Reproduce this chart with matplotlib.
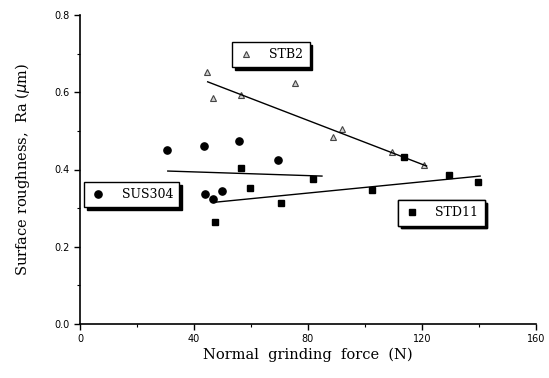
import numpy as np
import matplotlib
matplotlib.use("Agg")
import matplotlib.pyplot as plt
from matplotlib.lines import Line2D

stb2_force = [44.6, 46.8, 56.5, 75.4, 91.9, 88.8, 109.5, 120.7]
stb2_ra    = [0.653, 0.585, 0.593, 0.624, 0.505, 0.484, 0.445, 0.412]

sus304_force = [30.5, 43.5, 55.8, 69.5, 43.9, 46.7, 49.8]
sus304_ra    = [0.450, 0.461, 0.474, 0.425, 0.337, 0.324, 0.344]

std11_force = [56.5, 59.6, 47.4, 70.5, 81.8, 102.5, 113.7, 129.5, 139.6]
std11_ra    = [0.404, 0.352, 0.264, 0.313, 0.375, 0.347, 0.432, 0.386, 0.368]

# fitted trend lines, endpoints
stb2_fit_x = [44.8, 121.6]
stb2_fit_y = [0.627, 0.409]
sus304_fit_x = [30.8, 84.9]
sus304_fit_y = [0.396, 0.383]
std11_fit_x = [47.0, 140.4]
std11_fit_y = [0.315, 0.383]

xticks = [0, 40, 80, 120, 160]
yticks = [0.0, 0.2, 0.4, 0.6, 0.8]

fig = plt.figure(figsize=(5.49, 3.78), dpi=100)
ax = fig.add_axes([80/549, 1-324/378, 456/549, 309/378])

tri_style = dict(marker='^', ls='none', ms=5, mfc='#d0d0d0', mec='#444444', mew=0.8)
circ_style = dict(marker='o', ls='none', ms=5.2, mfc='k', mec='k')
sq_style = dict(marker='s', ls='none', ms=5, mfc='k', mec='k')

ax.plot(stb2_force, stb2_ra, **tri_style)
ax.plot(sus304_force, sus304_ra, **circ_style)
ax.plot(std11_force, std11_ra, **sq_style)

ax.plot(stb2_fit_x, stb2_fit_y, color='k', lw=1.0)
ax.plot(sus304_fit_x, sus304_fit_y, color='k', lw=1.0)
ax.plot(std11_fit_x, std11_fit_y, color='k', lw=1.0)

ax.set_xlim(0, 160)
ax.set_ylim(0, 0.8)
ax.set_xticks(xticks)
ax.set_xticks(np.arange(0, 161, 20), minor=True)
ax.set_yticks(yticks)
ax.set_yticks(np.arange(0, 0.81, 0.1), minor=True)
ax.set_yticklabels(['%.1f' % v for v in yticks])
ax.tick_params(which='major', direction='out', length=4, width=1, labelsize=7)
ax.tick_params(which='minor', direction='out', length=2.5, width=0.8)
for s in ['top', 'right']:
    ax.spines[s].set_visible(False)
for s in ['left', 'bottom']:
    ax.spines[s].set_linewidth(1.2)

ax.set_xlabel('Normal  grinding  force  (N)', family='serif', fontsize=10.5, labelpad=2)
ax.set_ylabel(r'Surface roughness,  Ra ($\mu$m)', family='serif', fontsize=10.5, labelpad=16)

def box_legend(handle, label, anchor):
    leg = ax.legend([handle], [label], loc='upper left', bbox_to_anchor=anchor,
                    borderaxespad=0, frameon=True, fancybox=False,
                    shadow={'color': 'k', 'alpha': 1}, handletextpad=1.3,
                    handlelength=1.2, borderpad=0.5,
                    prop={'family': 'serif', 'size': 9})
    leg.get_frame().set_edgecolor('k')
    leg.get_frame().set_linewidth(1.0)
    ax.add_artist(leg)

box_legend(Line2D([], [], **tri_style), 'STB2', (0.333, 0.913))
box_legend(Line2D([], [], **circ_style), 'SUS304', (0.009, 0.460))
box_legend(Line2D([], [], **sq_style), 'STD11', (0.697, 0.401))

fig.savefig('out.png', dpi=100)
